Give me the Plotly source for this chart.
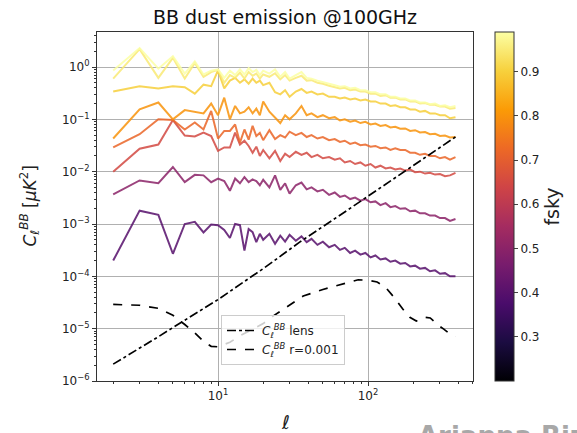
import plotly.graph_objects as go
from plotly.colors import sample_colorscale

# multipoles
ell = [2, 3, 4, 5, 6, 7, 8, 9, 10, 11, 12, 13, 14, 15, 16, 17, 18, 19, 20,
       22, 24, 26, 28, 30, 33, 36, 39, 42, 46, 50, 55, 60, 65, 70, 76, 82, 89, 96,
       104, 112, 121, 131, 141, 152, 164, 177, 191, 206, 222, 240, 259, 280, 302,
       326, 352, 383]

# fsky of each dust spectrum
fsky = [0.4, 0.5, 0.65, 0.72, 0.8, 0.9, 0.95, 0.99]

cl_a = [2e-4, 1.8e-3, 1.5e-3, 2.7e-4, 1.0e-3, 1.1e-3, 6.9e-4, 9.8e-4, 9.5e-4, 7.7e-4,
        5.4e-4, 1.0e-3, 9.5e-4, 3.1e-4, 8.0e-4, 7.0e-4, 4.5e-4, 6.5e-4, 5.0e-4,
        6.5e-4, 4.2e-4, 6.0e-4, 4.6e-4, 6.2e-4, 4.8e-4, 5.8e-4, 4.5e-4, 5.2e-4, 4.0e-4,
        4.6e-4, 3.6e-4, 4.0e-4, 3.2e-4, 3.5e-4, 2.8e-4, 3.1e-4, 2.6e-4, 2.8e-4, 2.3e-4,
        2.5e-4, 2.1e-4, 2.2e-4, 1.9e-4, 2.0e-4, 1.75e-4, 1.8e-4, 1.55e-4, 1.6e-4, 1.4e-4,
        1.45e-4, 1.25e-4, 1.3e-4, 1.12e-4, 1.15e-4, 1.0e-4, 1.0e-4]
cl_b = [3.7e-3, 6.8e-3, 6.0e-3, 1.23e-2, 6.3e-3, 8.7e-3, 8.5e-3, 6.3e-3, 7.4e-3, 6.6e-3,
        4.3e-3, 7.4e-3, 6.0e-3, 7.9e-3, 6.3e-3, 7.1e-3, 6.6e-3, 5.5e-3, 7.0e-3,
        5.0e-3, 8.5e-3, 4.5e-3, 6.0e-3, 3.8e-3, 5.5e-3, 6.2e-3, 4.6e-3, 5.0e-3, 4.2e-3,
        4.5e-3, 3.6e-3, 4.0e-3, 3.3e-3, 3.5e-3, 3.0e-3, 3.2e-3, 2.8e-3, 3.0e-3, 2.6e-3,
        2.7e-3, 2.3e-3, 2.5e-3, 2.1e-3, 2.2e-3, 1.95e-3, 2.0e-3, 1.75e-3, 1.8e-3, 1.6e-3,
        1.6e-3, 1.45e-3, 1.45e-3, 1.3e-3, 1.3e-3, 1.15e-3, 1.25e-3]
cl_c = [0.010, 0.0275, 0.033, 0.097, 0.049, 0.047, 0.056, 0.048, 0.025, 0.029,
        0.029, 0.056, 0.033, 0.039, 0.031, 0.023, 0.030, 0.020, 0.026,
        0.018, 0.025, 0.016, 0.022, 0.019, 0.024, 0.021, 0.023, 0.019, 0.021,
        0.018, 0.019, 0.017, 0.018, 0.015, 0.016, 0.014, 0.015, 0.013, 0.014,
        0.012, 0.013, 0.0115, 0.012, 0.011, 0.0115, 0.0105, 0.011, 0.0098, 0.010,
        0.0092, 0.0095, 0.0088, 0.009, 0.0082, 0.0085, 0.0095]
cl_d = [0.029, 0.052, 0.10, 0.097, 0.064, 0.087, 0.064, 0.145, 0.043, 0.060,
        0.060, 0.080, 0.036, 0.064, 0.041, 0.075, 0.048, 0.055, 0.040,
        0.062, 0.042, 0.050, 0.045, 0.058, 0.050, 0.055, 0.046, 0.050, 0.043,
        0.046, 0.040, 0.042, 0.037, 0.039, 0.034, 0.036, 0.032, 0.033, 0.030,
        0.031, 0.028, 0.029, 0.026, 0.028, 0.026, 0.026, 0.023, 0.023, 0.021,
        0.022, 0.020, 0.020, 0.018, 0.019, 0.017, 0.019]
cl_e = [0.043, 0.155, 0.21, 0.10, 0.15, 0.14, 0.13, 0.20, 0.12, 0.26,
        0.10, 0.18, 0.13, 0.14, 0.17, 0.13, 0.16, 0.12, 0.22,
        0.14, 0.11, 0.085, 0.12, 0.10, 0.13, 0.18, 0.12, 0.13, 0.11,
        0.12, 0.105, 0.11, 0.095, 0.10, 0.09, 0.095, 0.085, 0.09, 0.08,
        0.083, 0.075, 0.078, 0.07, 0.072, 0.066, 0.067, 0.06, 0.062, 0.056,
        0.057, 0.052, 0.053, 0.048, 0.049, 0.045, 0.046]
cl_f = [0.34, 0.43, 0.39, 0.43, 0.41, 0.31, 0.46, 0.43, 0.86, 0.39,
        0.55, 0.62, 0.50, 0.58, 0.48, 0.60, 0.50, 0.55, 0.45,
        0.50, 0.33, 0.30, 0.36, 0.27, 0.34, 0.38, 0.32, 0.34, 0.30,
        0.31, 0.27, 0.27, 0.25, 0.26, 0.24, 0.25, 0.23, 0.24, 0.22,
        0.22, 0.20, 0.20, 0.18, 0.185, 0.17, 0.17, 0.155, 0.155, 0.14,
        0.145, 0.13, 0.13, 0.12, 0.12, 0.105, 0.11]
cl_g = [0.60, 2.2, 0.62, 1.5, 0.60, 1.2, 0.65, 0.80, 0.88, 0.50,
        0.70, 0.62, 0.78, 0.60, 0.80, 0.68, 0.75, 0.60, 0.72,
        0.65, 0.76, 0.58, 0.70, 0.55, 0.62, 0.68, 0.55, 0.56, 0.50,
        0.48, 0.44, 0.42, 0.39, 0.40, 0.36, 0.37, 0.34, 0.34, 0.31,
        0.31, 0.28, 0.29, 0.26, 0.26, 0.24, 0.24, 0.22, 0.22, 0.20,
        0.205, 0.19, 0.19, 0.175, 0.175, 0.16, 0.165]
cl_h = [0.86, 2.3, 0.93, 1.6, 0.75, 1.28, 0.72, 0.85, 0.90, 0.62,
        0.85, 0.70, 0.90, 0.72, 0.95, 0.80, 0.88, 0.70, 0.85,
        0.75, 0.90, 0.65, 0.80, 0.60, 0.70, 0.80, 0.62, 0.60, 0.55,
        0.52, 0.48, 0.45, 0.42, 0.43, 0.39, 0.40, 0.36, 0.36, 0.33,
        0.33, 0.30, 0.30, 0.27, 0.27, 0.25, 0.25, 0.23, 0.23, 0.21,
        0.21, 0.195, 0.20, 0.18, 0.185, 0.17, 0.18]
dust_spectra = [cl_a, cl_b, cl_c, cl_d, cl_e, cl_f, cl_g, cl_h]

# lensing BB
ell_lens = [2, 3, 4, 5, 7, 10, 15, 20, 35, 50, 70, 100, 150, 200, 300, 383]
cl_lens = [2.1e-6, 4.2e-6, 7.0e-6, 1.05e-5, 1.9e-5, 3.6e-5, 8.0e-5, 1.4e-4, 4.5e-4,
           8.8e-4, 1.7e-3, 3.4e-3, 7.5e-3, 1.3e-2, 2.9e-2, 4.6e-2]

# primordial BB, r=0.001
ell_tens = [2, 3, 4, 5, 6, 7, 8, 9, 10, 12, 14, 17, 20, 23, 30, 37, 50, 60, 75, 86,
            100, 115, 130, 150, 170, 190, 210, 240, 260, 290, 320, 350, 383]
cl_tens = [2.9e-5, 2.8e-5, 2.45e-5, 1.8e-5, 1.2e-5, 8.3e-6, 5.7e-6, 4.6e-6, 4.5e-6,
           5.5e-6, 7.3e-6, 9.6e-6, 1.25e-5, 1.7e-5, 2.8e-5, 4.2e-5, 5.6e-5, 6.5e-5,
           7.8e-5, 8.6e-5, 8.4e-5, 7.8e-5, 6.3e-5, 3.9e-5, 2.4e-5, 1.65e-5, 1.4e-5,
           1.65e-5, 1.6e-5, 1.2e-5, 9.8e-6, 8.0e-6, 7.1e-6]

FSKY_MIN, FSKY_MAX = 0.2, 0.99
FONT = "DejaVu Sans"
W, H = 577, 433
ML, MR, MT, MB = 97, 104, 32, 52
PW, PH = W - ML - MR, H - MT - MB

fig = go.Figure()

for f, cl in zip(fsky, dust_spectra):
    norm = (f - FSKY_MIN) / (FSKY_MAX - FSKY_MIN)
    col = sample_colorscale("Inferno", [norm])[0]
    fig.add_trace(go.Scatter(x=ell, y=cl, mode="lines",
                             line=dict(color=col, width=2),
                             opacity=0.85, showlegend=False, hoverinfo="skip"))

fig.add_trace(go.Scatter(x=ell_lens, y=cl_lens, mode="lines",
                         line=dict(color="black", width=1.7, dash="dashdot"),
                         name="<i>C</i><sub>ℓ</sub><sup><i>BB</i></sup> lens"))
fig.add_trace(go.Scatter(x=ell_tens, y=cl_tens, mode="lines",
                         line=dict(color="black", width=1.7, dash="dash"),
                         name="<i>C</i><sub>ℓ</sub><sup><i>BB</i></sup> r=0.001"))

# colorbar carrier
fig.add_trace(go.Scatter(x=[None], y=[None], mode="markers", showlegend=False,
                         marker=dict(color=[0.5], colorscale="Inferno",
                                     cmin=FSKY_MIN, cmax=FSKY_MAX, showscale=True,
                                     colorbar=dict(
                                         x=(495 - ML) / PW, xanchor="left", xref="paper",
                                         y=0.5, yanchor="middle", yref="paper",
                                         len=1.0, lenmode="fraction", ypad=0, xpad=0,
                                         thickness=19, outlinewidth=1,
                                         outlinecolor="#333333",
                                         ticks="outside", ticklen=4,
                                         tickvals=[0.3, 0.4, 0.5, 0.6, 0.7, 0.8, 0.9],
                                         ticktext=["0.3", "0.4", "0.5", "0.6", "0.7", "0.8", "0.9"],
                                         tickfont=dict(size=12, color="#222"),
                                         title=dict(text="fsky", side="right",
                                                    font=dict(size=19, color="#222"))))))

xminor = [m * 10 ** d for d in range(0, 3) for m in range(2, 10)]
yminor = [m * 10.0 ** d for d in range(-6, 1) for m in range(2, 10)]

fig.update_layout(
    width=W, height=H,
    margin=dict(l=ML, r=MR, t=MT, b=MB, autoexpand=False),
    paper_bgcolor="white", plot_bgcolor="white",
    font=dict(family=FONT, size=12, color="#222"),
    title=dict(text="BB dust emission @100GHz", x=0.5, xref="paper",
               y=1 - 17 / H, yanchor="middle", font=dict(size=19, color="#111")),
    xaxis=dict(type="log", range=[0.193, 2.70], automargin=False,
               showline=True, linecolor="#333", linewidth=1, mirror=True,
               ticks="outside", ticklen=4, tickcolor="#333",
               tickvals=[10, 100], ticktext=["10<sup>1</sup>", "10<sup>2</sup>"],
               showgrid=True, gridcolor="#b0b0b0", gridwidth=1,
               minor=dict(tickvals=xminor, ticks="outside", ticklen=2,
                          tickcolor="#333", showgrid=False)),
    yaxis=dict(type="log", range=[-6, 0.669], automargin=False,
               showline=True, linecolor="#333", linewidth=1, mirror=True,
               ticks="outside", ticklen=4, tickcolor="#333",
               tickvals=[10.0 ** k for k in range(-6, 1)],
               ticktext=["10<sup>%d</sup>" % k if k >= 0 else "10<sup>−%d</sup>" % (-k)
                         for k in range(-6, 1)],
               showgrid=True, gridcolor="#b0b0b0", gridwidth=1,
               minor=dict(tickvals=yminor, ticks="outside", ticklen=2,
                          tickcolor="#333", showgrid=False)),
    legend=dict(x=(221 - ML) / PW, y=(MT + PH - 315) / PH, xanchor="left", yanchor="top",
                bgcolor="rgba(255,255,255,0.8)", bordercolor="#cccccc",
                borderwidth=1, font=dict(size=12, color="#222"),
                tracegroupgap=2),
    annotations=[
        dict(text="<i>C</i><sub>ℓ</sub><sup><i>BB</i></sup> [<i>μK</i><sup>2</sup>]",
             xref="paper", yref="paper", x=(30 - ML) / PW, y=0.5,
             xanchor="center", yanchor="middle", textangle=-90, showarrow=False,
             font=dict(size=17, color="#222")),
        dict(text="<i>ℓ</i>", xref="paper", yref="paper",
             x=0.5, y=(MT + PH - 422) / PH, xanchor="center", yanchor="middle",
             showarrow=False, font=dict(size=19, color="#222")),
        dict(text="<b>Arianna Rizzieri</b>", xref="paper", yref="paper",
             x=(416 - ML) / PW, y=(MT + PH - 419) / PH,
             xanchor="left", yanchor="top", showarrow=False,
             font=dict(size=26, color="#a8a8a8")),
    ],
)

fig.write_html("out.html", config={"displayModeBar": False},
               post_script="document.body.style.margin='0';document.body.style.overflow='hidden';")
